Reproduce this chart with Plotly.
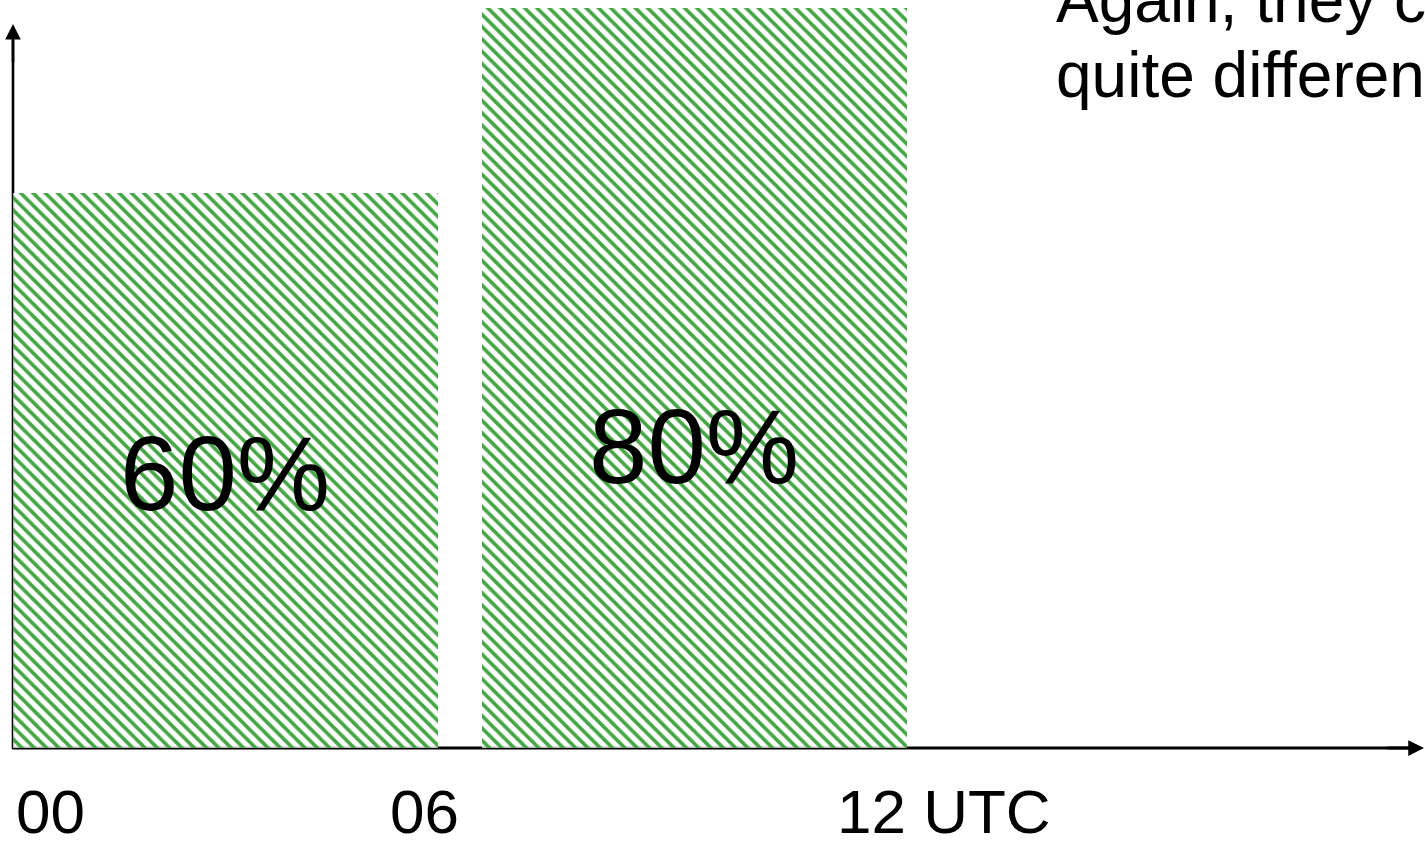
import plotly.graph_objects as go

# Share of the time window, per 6-hour slot
slots = ["00-06", "06-12"]
shares = [60, 80]

tick_labels = ["00", "06", "12 UTC"]
note_lines = ["Again, they can be", "quite different"]

W, H = 1425, 843
FONT = "Liberation Sans, Arial, sans-serif"

# Scale: origin of the chart in page pixels and pixels per unit
X0_PX, Y0_PX = 13, 748
PX_PER_HOUR = 70.83
PX_PER_PCT = 9.25

bar_centers = [3.0, 9.62]          # hours
bar_width = 6.0
label_y = [29.7, 32.6]             # vertical placement of the in-bar labels (%)
tick_left_px = [14.5, 388.5, 836.0]


def px(x):
    return x / W


def py(y):
    return 1 - y / H


fig = go.Figure()
fig.add_trace(go.Bar(
    x=bar_centers,
    y=shares,
    width=bar_width,
    marker=dict(
        color="rgba(255,255,255,0.75)",
        line=dict(width=0),
        pattern=dict(shape="\\", fgcolor="#45a645", fgopacity=1,
                     size=8.7, solidity=0.42, fillmode="overlay"),
    ),
    hoverinfo="skip",
))

annotations = []
for xc, v, ly in zip(bar_centers, shares, label_y):
    annotations.append(dict(
        x=xc, y=ly, xref="x", yref="y", text=f"{v}%", showarrow=False,
        xanchor="center", yanchor="middle",
        font=dict(family=FONT, size=105, color="black"),
    ))

for lx, t in zip(tick_left_px, tick_labels):
    annotations.append(dict(
        x=px(lx), y=py(811), xref="paper", yref="paper", text=t,
        showarrow=False, xanchor="left", yanchor="middle", borderpad=0,
        font=dict(family=FONT, size=62, color="black"),
    ))

for i, t in enumerate(note_lines):
    annotations.append(dict(
        x=px(1053.5), y=py(0 + 75 * i), xref="paper", yref="paper", text=t,
        showarrow=False, xanchor="left", yanchor="middle",
        font=dict(family=FONT, size=64, color="black"),
    ))

# Arrow heads at the ends of both axes
annotations.append(dict(
    x=px(X0_PX), y=py(24), ax=0, ay=40,
    xref="paper", yref="paper", axref="pixel", ayref="pixel",
    text="", showarrow=True, arrowhead=2, arrowsize=1.2, arrowwidth=2.6,
    arrowcolor="black",
))
annotations.append(dict(
    x=px(1434), y=py(Y0_PX), ax=-48, ay=0,
    xref="paper", yref="paper", axref="pixel", ayref="pixel",
    text="", showarrow=True, arrowhead=2, arrowsize=1.05, arrowwidth=3,
    arrowcolor="black",
))

shapes = [
    dict(type="line", xref="paper", yref="paper", layer="below",
         x0=px(X0_PX), y0=py(Y0_PX + 1), x1=px(X0_PX), y1=py(40),
         line=dict(color="black", width=2.6)),
    dict(type="line", xref="paper", yref="paper", layer="below",
         x0=px(X0_PX - 1), y0=py(Y0_PX), x1=px(1420), y1=py(Y0_PX),
         line=dict(color="black", width=3)),
]

fig.update_layout(
    width=W, height=H,
    margin=dict(l=0, r=0, t=0, b=0),
    paper_bgcolor="white", plot_bgcolor="white",
    showlegend=False,
    xaxis=dict(range=[-X0_PX / PX_PER_HOUR, (W - X0_PX) / PX_PER_HOUR],
               visible=False, fixedrange=True),
    yaxis=dict(range=[-(H - Y0_PX) / PX_PER_PCT, Y0_PX / PX_PER_PCT],
               visible=False, fixedrange=True),
    annotations=annotations,
    shapes=shapes,
    bargap=0,
)

fig.write_html("out.html", config={"displayModeBar": False})
